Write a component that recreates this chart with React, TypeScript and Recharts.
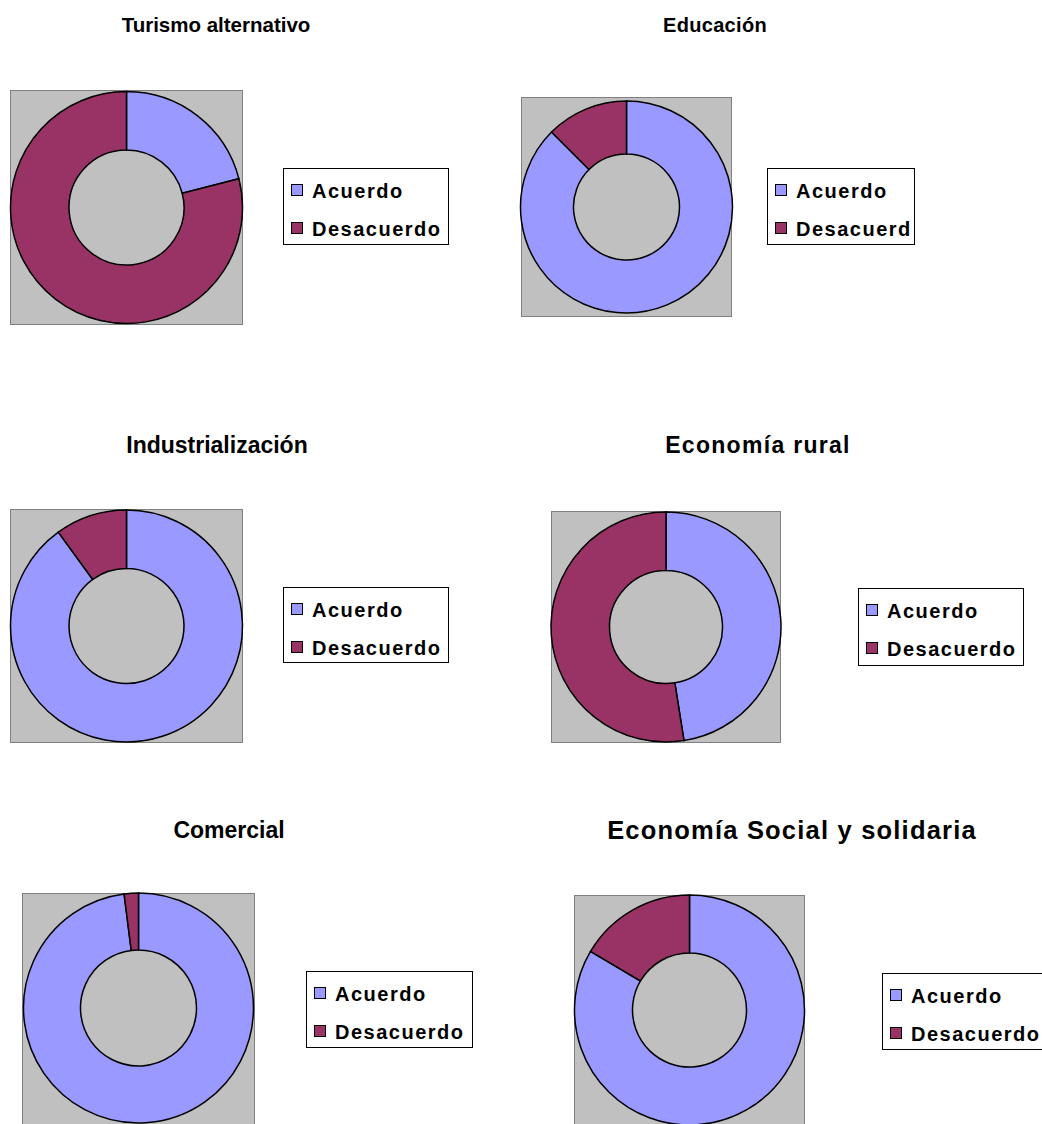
import { PieChart, Pie, Cell, Legend } from "recharts";

const categories = ["Acuerdo", "Desacuerdo"];
const chartTitles = [
  "Turismo alternativo",
  "Educación",
  "Industrialización",
  "Economía rural",
  "Comercial",
  "Economía Social y solidaria",
];
const turismoValues = [21, 79];
const educacionValues = [87.5, 12.5];
const industrializacionValues = [90, 10];
const economiaRuralValues = [47.5, 52.5];
const comercialValues = [98, 2];
const economiaSocialValues = [83.5, 16.5];

const colors = ["#9999FF", "#993366"];
const font = "'Liberation Sans', Arial, sans-serif";

const toData = (values: number[]) => categories.map((name, i) => ({ name, value: values[i] }));

// panel layout (pixels, relative to each panel); maxChars cuts a legend label the way the source box does
const panels = [
  { values: turismoValues, left: 0, top: 0, w: 500, h: 400, titleX: 216, titleTop: 14.5, titleSize: 20.5, ls: 0, sq: [10, 90, 233, 235], cx: 126.5, cy: 207.5, r: 116, ir: 57.5, lg: [283, 168, 166, 77], maxChars: 20 },
  { values: educacionValues, left: 500, top: 0, w: 560, h: 400, titleX: 215, titleTop: 15, titleSize: 20, ls: 0.3, sq: [21, 97, 211, 220], cx: 126.5, cy: 207, r: 106, ir: 53, lg: [267, 168, 148, 77], maxChars: 9 },
  { values: industrializacionValues, left: 0, top: 400, w: 500, h: 390, titleX: 217, titleTop: 33.5, titleSize: 23, ls: 0, sq: [10, 109, 233, 234], cx: 126.5, cy: 226, r: 116, ir: 57.5, lg: [283, 187, 166, 76], maxChars: 20 },
  { values: economiaRuralValues, left: 500, top: 400, w: 560, h: 390, titleX: 258, titleTop: 33.5, titleSize: 23, ls: 1.3, sq: [51, 111, 230, 232], cx: 166, cy: 227, r: 115, ir: 56.5, lg: [358, 188, 166, 78], maxChars: 20 },
  { values: comercialValues, left: 0, top: 790, w: 500, h: 334, titleX: 229, titleTop: 28.5, titleSize: 23, ls: 0, sq: [22, 103, 233, 240], cx: 138.5, cy: 218, r: 115, ir: 58, lg: [306, 181, 167, 77], maxChars: 20 },
  { values: economiaSocialValues, left: 500, top: 790, w: 560, h: 334, titleX: 292, titleTop: 27.5, titleSize: 25.5, ls: 1.2, sq: [74, 105, 231, 240], cx: 189.5, cy: 220, r: 115, ir: 57, lg: [382, 183, 166, 77], maxChars: 20 },
];

function LegendBox({ payload, width, height, maxChars }: any) {
  return (
    <div
      style={{
        width,
        height,
        boxSizing: "border-box",
        border: "1px solid #000",
        background: "#fff",
        position: "relative",
        overflow: "hidden",
        fontFamily: font,
        fontWeight: "bold",
        fontSize: 20,
        letterSpacing: 1.5,
        color: "#000",
      }}
    >
      {(payload || []).map((p: any, i: number) => (
        <div key={p.value} style={{ position: "absolute", left: 0, top: 12 + i * 38, height: 24, whiteSpace: "nowrap" }}>
          <span
            style={{
              position: "absolute",
              left: 7,
              top: 3,
              width: 12,
              height: 12,
              boxSizing: "border-box",
              border: "1px solid #000",
              background: p.color,
            }}
          />
          <span style={{ position: "absolute", left: 28, top: 0, lineHeight: "20px" }}>
            {String(p.value).slice(0, maxChars)}
          </span>
        </div>
      ))}
    </div>
  );
}

function DonutPanel({ p, title }: any) {
  const [sx, sy, sw, sh] = p.sq;
  const [lx, ly, lw, lh] = p.lg;
  return (
    <div style={{ position: "absolute", left: p.left, top: p.top, width: p.w, height: p.h, overflow: "hidden" }}>
      <div
        style={{
          position: "absolute",
          left: p.titleX - 200,
          width: 400,
          top: p.titleTop,
          textAlign: "center",
          fontFamily: font,
          fontWeight: "bold",
          fontSize: p.titleSize,
          letterSpacing: p.ls,
          lineHeight: 1,
          color: "#000",
          whiteSpace: "nowrap",
        }}
      >
        {title}
      </div>
      <div
        style={{
          position: "absolute",
          left: sx,
          top: sy,
          width: sw,
          height: sh,
          boxSizing: "border-box",
          background: "#C0C0C0",
          border: "1px solid #808080",
        }}
      />
      <div style={{ position: "absolute", left: 0, top: 0 }}>
        <PieChart width={p.w} height={p.h} margin={{ top: 0, right: 0, bottom: 0, left: 0 }}>
          <Pie
            data={toData(p.values)}
            dataKey="value"
            nameKey="name"
            cx={p.cx}
            cy={p.cy}
            outerRadius={p.r}
            innerRadius={p.ir}
            startAngle={90}
            endAngle={-270}
            stroke="#000"
            strokeWidth={1.5}
            isAnimationActive={false}
          >
            {categories.map((c, i) => (
              <Cell key={c} fill={colors[i]} />
            ))}
          </Pie>
          <Legend
            layout="vertical"
            align="right"
            verticalAlign="middle"
            width={lw}
            height={lh}
            wrapperStyle={{ left: lx, top: ly, width: lw, height: lh }}
            content={(props: any) => (
              <LegendBox payload={props.payload} width={lw} height={lh} maxChars={p.maxChars} />
            )}
          />
        </PieChart>
      </div>
    </div>
  );
}

export default function App() {
  return (
    <div style={{ position: "absolute", left: 0, top: 0, width: 1042, height: 1124, background: "#fff", overflow: "hidden" }}>
      {panels.map((p, i) => (
        <DonutPanel key={i} p={p} title={chartTitles[i]} />
      ))}
    </div>
  );
}
